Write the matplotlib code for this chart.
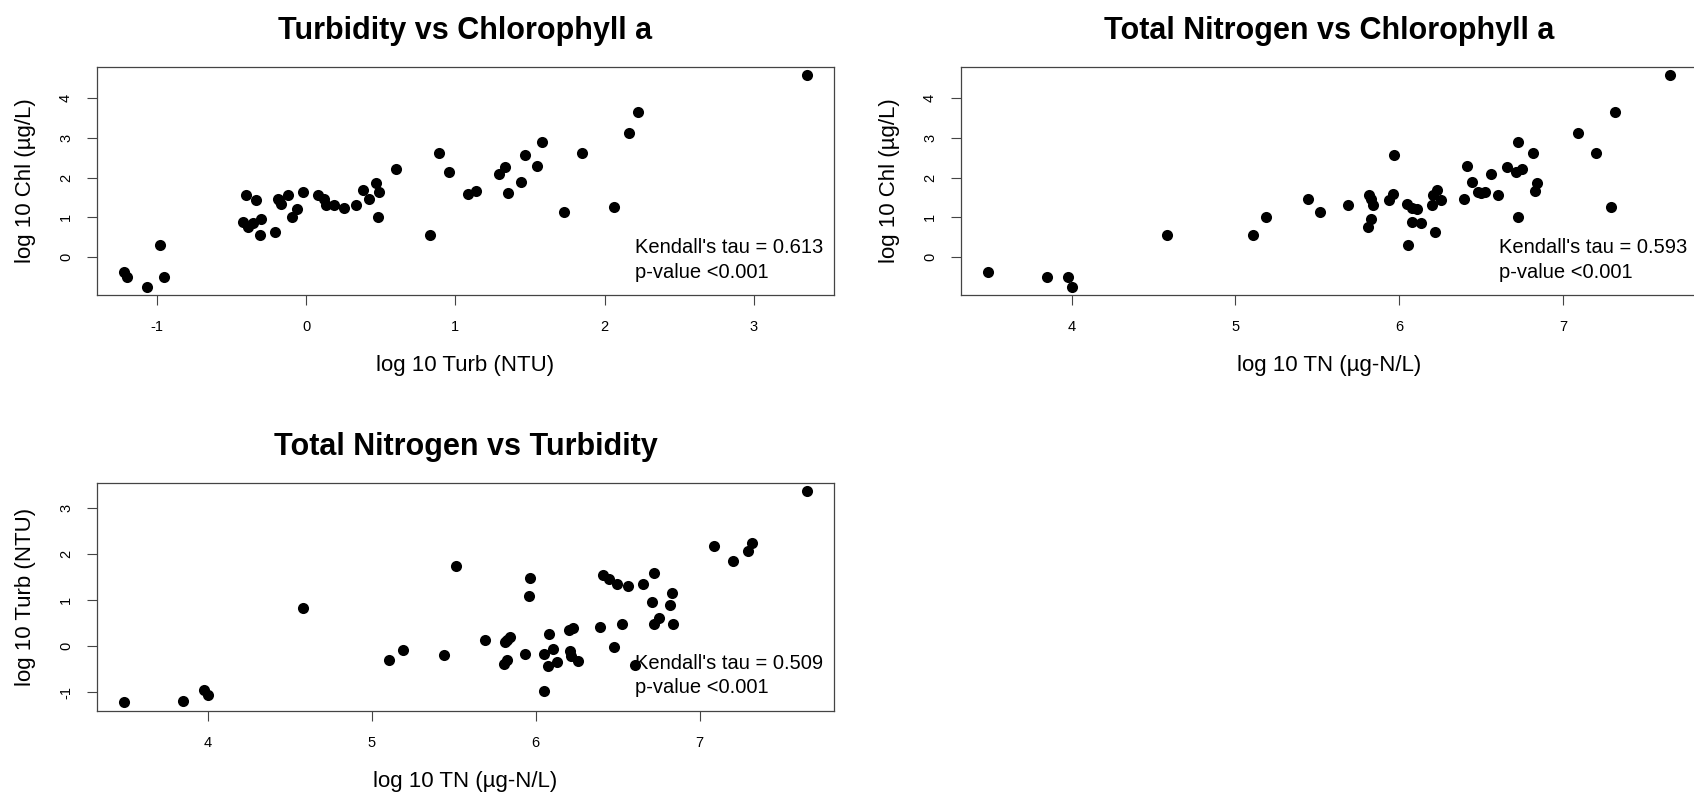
import matplotlib
matplotlib.use("Agg")
import matplotlib.pyplot as plt
from matplotlib.transforms import ScaledTranslation

plt.rcParams['font.family'] = ['Liberation Sans', 'DejaVu Sans']

# ---- data: one row per sample (log10 values) ----
tn = [3.49, 3.85, 3.98, 4.005, 4.584, 5.106, 5.188, 5.44, 5.514, 5.69,
      5.807, 5.815, 5.825, 5.828, 5.842, 5.935, 5.962, 5.968, 6.05, 6.052,
      6.078, 6.08, 6.106, 6.131, 6.202, 6.215, 6.208, 6.23, 6.255, 6.392,
      6.411, 6.445, 6.478, 6.496, 6.526, 6.561, 6.605, 6.656, 6.711, 6.724,
      6.724, 6.751, 6.818, 6.831, 6.84, 7.088, 7.2, 7.293, 7.316, 7.654]
chl = [-0.395, -0.52, -0.52, -0.755, 0.544, 0.544, 1.01, 1.445, 1.136, 1.316,
       0.762, 1.563, 1.45, 0.96, 1.295, 1.42, 1.59, 2.574, 1.33, 0.292,
       0.88, 1.23, 1.2, 0.855, 1.298, 0.624, 1.55, 1.693, 1.433, 1.459,
       2.279, 1.89, 1.635, 1.61, 1.635, 2.1, 1.563, 2.26, 2.13, 2.908,
       1.01, 2.21, 2.611, 1.651, 1.862, 3.115, 2.616, 1.248, 3.655, 4.586]
turb = [-1.22, -1.20, -0.95, -1.065, 0.827, -0.31, -0.095, -0.19, 1.73, 0.13,
        -0.39, 0.08, 0.12, -0.304, 0.186, -0.18, 1.085, 1.465, -0.17, -0.98,
        -0.425, 0.255, -0.062, -0.357, 0.336, -0.21, -0.12, 0.38, -0.335, 0.42,
        1.546, 1.442, -0.018, 1.352, 0.486, 1.29, -0.406, 1.332, 0.96, 1.579,
        0.481, 0.605, 0.887, 1.137, 0.468, 2.162, 1.848, 2.062, 2.222, 3.355]

titles = ["Turbidity vs Chlorophyll a", "Total Nitrogen vs Chlorophyll a",
          "Total Nitrogen vs Turbidity"]
xlabels = ["log 10 Turb (NTU)", "log 10 TN (\u00b5g-N/L)", "log 10 TN (\u00b5g-N/L)"]
ylabels = ["log 10 Chl (\u00b5g/L)", "log 10 Chl (\u00b5g/L)", "log 10 Turb (NTU)"]
taus = ["0.613", "0.593", "0.509"]
pvals = ["<0.001", "<0.001", "<0.001"]
xticks = [[-1, 0, 1, 2, 3], [4, 5, 6, 7], [4, 5, 6, 7]]
yticks = [[0, 1, 2, 3, 4], [0, 1, 2, 3, 4], [-1, 0, 1, 2, 3]]

W, H = 1694, 799
fig = plt.figure(figsize=(W / 100, H / 100), dpi=100)

# axes boxes in pixels: (left, right, top, bottom)
boxes = [(96.7, 834.3, 66.7, 295.0),
         (960.7, 1697.6, 66.7, 295.0),
         (96.7, 834.3, 482.7, 710.7)]
pairs = [(turb, chl), (tn, chl), (tn, turb)]


def rlim(v):
    lo, hi = min(v), max(v)
    d = (hi - lo) * 0.04
    return lo - d, hi + d


for i in range(3):
    l, r, t, b = boxes[i]
    ax = fig.add_axes([l / W, (H - b) / H, (r - l) / W, (b - t) / H])
    xs, ys = pairs[i]
    ax.plot(xs, ys, 'o', color='black', ms=8, mew=0)
    ax.set_xlim(*rlim(xs))
    ax.set_ylim(*rlim(ys))
    ax.set_xticks(xticks[i])
    ax.set_yticks(yticks[i])
    ax.set_xticklabels([str(v) for v in xticks[i]])
    ax.set_yticklabels([str(v) for v in yticks[i]], rotation=90, va='center')
    ax.tick_params(axis='both', direction='out', length=7, width=0.8,
                   color='#444444', labelsize=10.5)
    ax.tick_params(axis='x', pad=11)
    ax.tick_params(axis='y', pad=10)
    for sp in ax.spines.values():
        sp.set_color('#444444')
        sp.set_linewidth(0.9)
    ax.set_title(titles[i], fontsize=22, fontweight='bold', pad=20)
    ax.set_xlabel(xlabels[i], fontsize=16, va='center')
    ax.xaxis.set_label_coords(0.5, -71.0 / (b - t))
    ax.set_ylabel(ylabels[i], fontsize=16, va='center')
    ax.yaxis.set_label_coords(-71.7 / (r - l), 0.5)
    off1 = ScaledTranslation(-199 / 100, 47.3 / 100, fig.dpi_scale_trans)
    off2 = ScaledTranslation(-199 / 100, 23.0 / 100, fig.dpi_scale_trans)
    ax.text(1, 0, "Kendall's tau = " + taus[i], transform=ax.transAxes + off1,
            ha='left', va='center', fontsize=14.5)
    ax.text(1, 0, "p-value " + pvals[i], transform=ax.transAxes + off2,
            ha='left', va='center', fontsize=14.5)

fig.savefig("out.png", dpi=100, facecolor='white')
